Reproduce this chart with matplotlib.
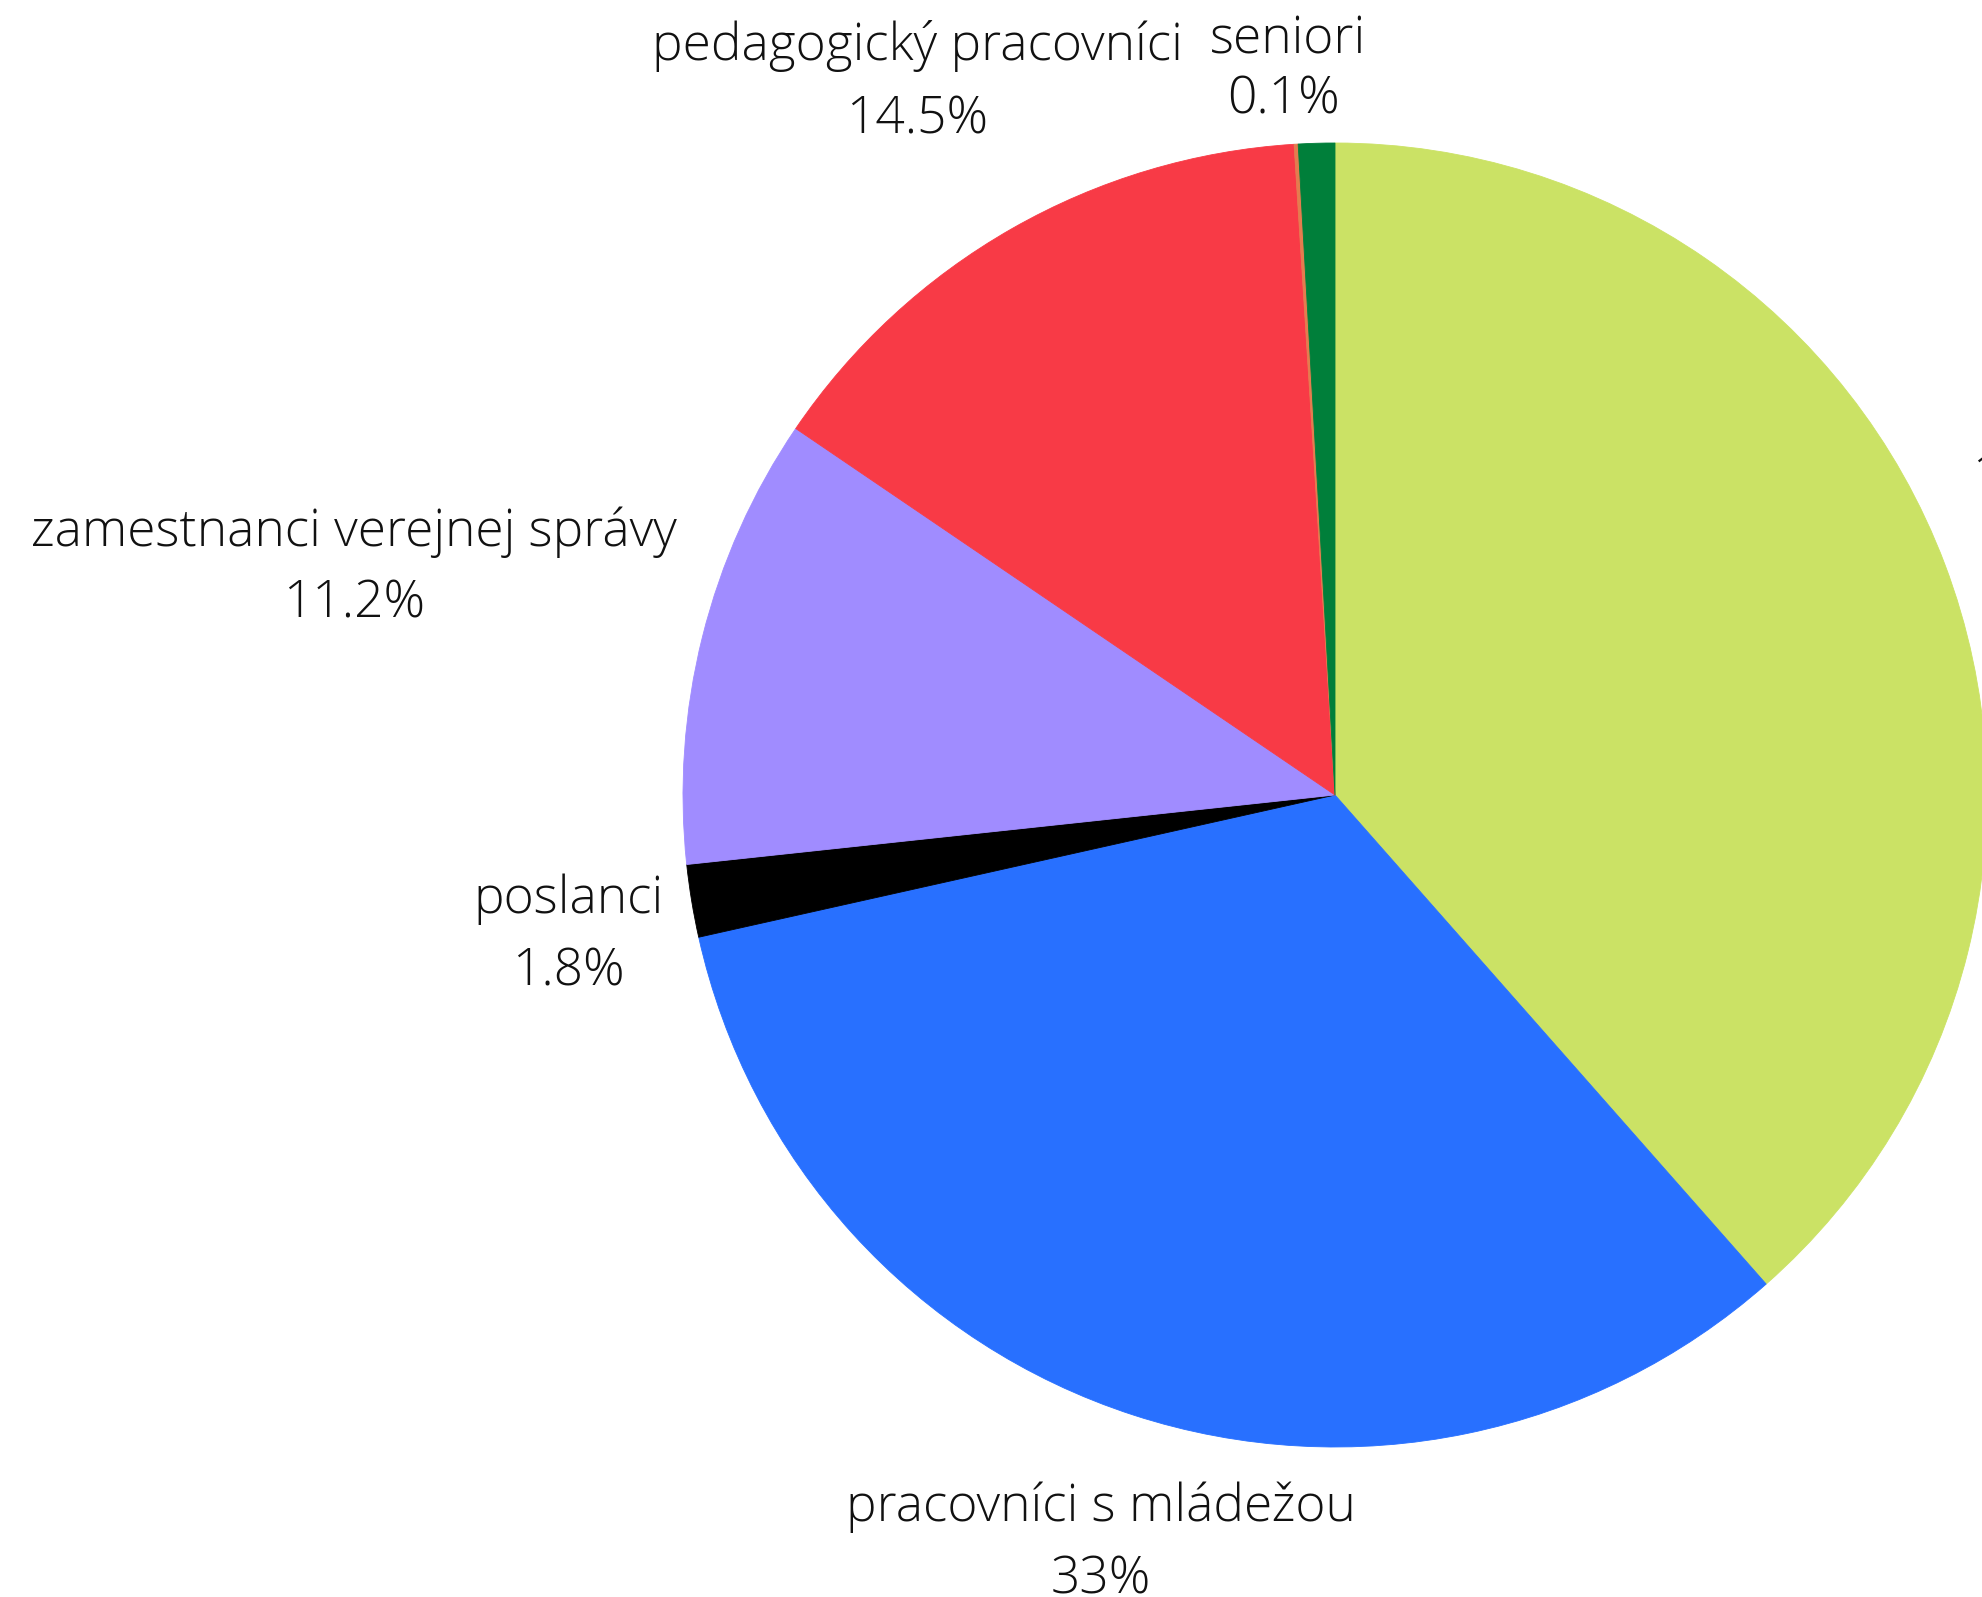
import matplotlib.pyplot as plt

# data, clockwise from 12 o'clock
categories = ["1…", "pracovníci s mládežou", "poslanci", "zamestnanci verejnej správy",
              "pedagogický pracovníci", "seniori", ""]
values = [38.5, 33.0, 1.8, 11.2, 14.5, 0.1, 0.9]
pct_labels = ["38.5%", "33%", "1.8%", "11.2%", "14.5%", "0.1%", ""]
colors = ["#cbe265", "#2870ff", "#000000", "#a08cff", "#f83a46", "#e47c4e", "#007f3a"]

# label layout (pixels): x of name, x of percentage, baseline of name, baseline of percentage, alignment
label_pos = [
    (1972, 2010, 490, 562, "left"),
    (1101, 1101, 1521, 1593, "center"),
    (568, 568, 913, 986, "center"),
    (354, 354, 546, 617, "center"),
    (917, 917, 60, 133, "center"),
    (1288, 1284, 54, 113, "center"),
    None,
]

W, H = 1982, 1597
plt.rcParams['font.family'] = ['Open Sans', 'DejaVu Sans']

fig = plt.figure(figsize=(W / 100, H / 100), dpi=100)
ax = fig.add_axes([0, 0, 1, 1])

wedges, _ = ax.pie(values, colors=colors, startangle=-90, counterclock=True,
                   center=(1335, 795), radius=652,
                   wedgeprops=dict(linewidth=0.6, antialiased=True))
for w, c in zip(wedges, colors):
    w.set_edgecolor(c)

ax.set_xlim(0, W)
ax.set_ylim(H, 0)
ax.set_aspect('equal')
ax.axis('off')

for name, pct, pos in zip(categories, pct_labels, label_pos):
    if pos is None:
        continue
    x1, x2, y1, y2, ha = pos
    ax.text(x1, y1, name, ha=ha, va='baseline', fontsize=37, fontweight='light', color='#111111')
    ax.text(x2, y2, pct, ha=ha, va='baseline', fontsize=37, fontweight='light', color='#111111')

fig.savefig("out.png", dpi=100, facecolor='white')
